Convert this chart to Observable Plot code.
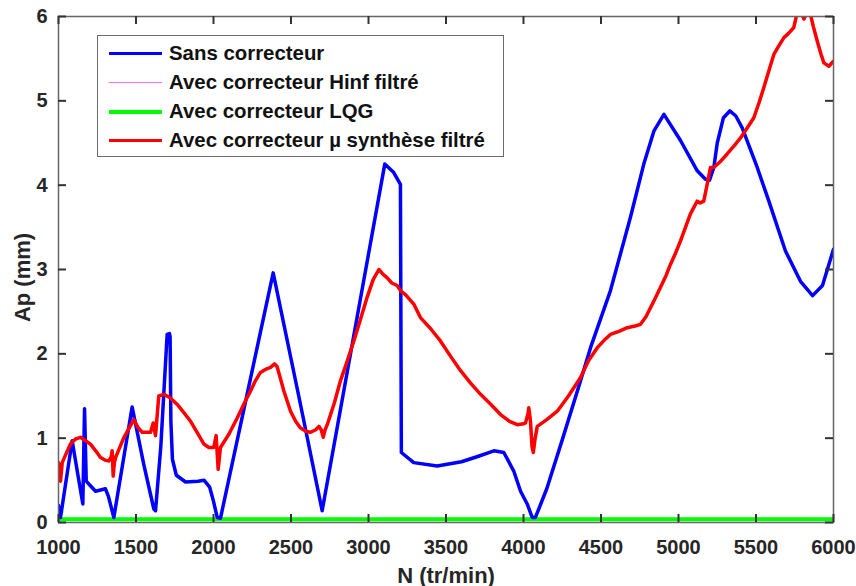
<!DOCTYPE html>
<html><head><meta charset="utf-8">
<script src="https://cdn.jsdelivr.net/npm/d3@7"></script>
<script src="https://cdn.jsdelivr.net/npm/@observablehq/plot@0.6"></script>
<style>
body{margin:0;background:#fff;}
#wrap{position:relative;width:856px;height:586px;font-family:"Liberation Sans",Arial,sans-serif;font-weight:bold;color:#111;}
#legend{position:absolute;left:97px;top:35px;width:405px;height:120px;border:1.5px solid #6b6b6b;background:#fff;box-sizing:content-box;}
.row{position:absolute;left:0;height:30px;width:100%;}
.sw{position:absolute;left:11px;width:53px;top:50%;}
.lab{position:absolute;left:71px;top:50%;transform:translateY(-52%);font-size:20.4px;white-space:nowrap;line-height:1;}
</style>
</head><body>
<div id="wrap"><div id="chart"></div><div id="legend"></div></div>
<script>
// Axis ticks
const xTicks = [1000,1500,2000,2500,3000,3500,4000,4500,5000,5500,6000];
const yTicks = [0,1,2,3,4,5,6];

// Series names and colours
const seriesNames = ["Sans correcteur","Avec correcteur Hinf filtré","Avec correcteur LQG","Avec correcteur µ synthèse filtré"];
const seriesColors = ["#0000ff","#ff66ff","#00ff00","#ff0000"];
const seriesWidths = [3.5,1.5,4,3.5];

// Sans correcteur (blue)
const N_sans = [1000,1013,1088,1157,1168,1179,1194,1239,1303,1322,1357,1475,1550,1615,1626,1660,1701,1716,1720,1725,1735,1760,1820,1900,1940,1975,2000,2024,2045,2385,2550,2701,3105,3163,3206,3212,3292,3443,3600,3700,3809,3873,3937,3981,4024,4056,4077,4150,4250,4368,4432,4561,4690,4776,4841,4906,5013,5121,5174,5200,5228,5250,5290,5331,5370,5411,5508,5583,5690,5787,5865,5929,6000];
const Ap_sans = [0.20,0.06,0.97,0.22,1.35,0.49,0.46,0.37,0.40,0.31,0.06,1.37,0.69,0.16,0.14,0.9,2.23,2.24,2.2,1.2,0.75,0.56,0.48,0.49,0.50,0.42,0.25,0.06,0.05,2.96,1.50,0.14,4.25,4.15,4.01,0.83,0.71,0.67,0.72,0.78,0.85,0.83,0.61,0.37,0.22,0.06,0.06,0.40,0.98,1.68,2.07,2.75,3.62,4.25,4.64,4.84,4.53,4.17,4.07,4.06,4.21,4.5,4.8,4.88,4.82,4.68,4.21,3.81,3.22,2.86,2.69,2.81,3.24];

// Avec correcteur Hinf filtré (pink, hidden under LQG)
const N_hinf = [1000,6000];
const Ap_hinf = [0.03,0.03];

// Avec correcteur LQG (green)
const N_lqg = [1000,6000];
const Ap_lqg = [0.04,0.04];

// Avec correcteur µ synthèse filtré (red)
const N_mu = [1000,1013,1024,1050,1077,1110,1142,1175,1206,1240,1271,1300,1325,1340,1346,1353,1360,1368,1420,1486,1515,1540,1594,1611,1626,1647,1680,1720,1766,1810,1852,1900,1938,1970,2002,2017,2030,2045,2100,2153,2200,2239,2270,2303,2340,2368,2394,2410,2430,2454,2497,2530,2561,2600,2626,2660,2680,2695,2708,2720,2734,2780,2819,2860,2905,2950,2991,3030,3067,3090,3121,3150,3185,3206,3240,3292,3335,3400,3465,3530,3594,3660,3723,3790,3852,3910,3959,4000,4013,4030,4034,4045,4055,4063,4075,4089,4150,4218,4290,4368,4420,4475,4520,4561,4620,4669,4720,4755,4790,4820,4850,4884,4920,4948,4980,5013,5045,5077,5100,5120,5140,5163,5185,5206,5228,5270,5314,5360,5400,5440,5486,5520,5551,5585,5615,5650,5680,5710,5744,5766,5790,5809,5830,5852,5870,5895,5920,5938,5970,6000];
const Ap_mu = [0.71,0.49,0.71,0.82,0.93,0.99,1.01,0.97,0.93,0.85,0.77,0.74,0.73,0.78,0.85,0.55,0.70,0.77,1.00,1.22,1.12,1.07,1.07,1.18,1.03,1.50,1.52,1.48,1.40,1.30,1.20,1.05,0.93,0.89,0.89,1.03,0.63,0.89,1.05,1.24,1.42,1.56,1.68,1.78,1.82,1.84,1.88,1.85,1.72,1.56,1.32,1.20,1.12,1.08,1.07,1.10,1.14,1.10,1.01,1.10,1.16,1.42,1.68,1.90,2.15,2.42,2.67,2.88,3.00,2.95,2.90,2.84,2.81,2.75,2.70,2.59,2.43,2.30,2.15,1.97,1.80,1.65,1.52,1.40,1.28,1.20,1.16,1.17,1.18,1.30,1.36,1.20,0.90,0.83,1.00,1.14,1.22,1.32,1.50,1.72,1.92,2.07,2.16,2.23,2.27,2.31,2.33,2.35,2.44,2.55,2.66,2.79,2.93,3.06,3.19,3.34,3.50,3.66,3.74,3.81,3.79,3.81,4.01,4.21,4.21,4.28,4.37,4.47,4.56,4.67,4.80,4.98,5.16,5.37,5.55,5.66,5.75,5.80,5.87,6.05,6.05,5.97,6.05,6.02,5.88,5.71,5.55,5.45,5.41,5.47];

const toRows = (N, A) => N.map((n, i) => ({N: n, Ap: A[i]}));
const series = [toRows(N_sans, Ap_sans), toRows(N_hinf, Ap_hinf), toRows(N_lqg, Ap_lqg), toRows(N_mu, Ap_mu)];
const drawOrder = [1, 2, 0, 3];

const axisColor = "#666666";
const tickColor = "#333333";
const fmt = d3.format("d");
const W = 856, H = 586, mL = 58, mR = 23, mT = 16, mB = 64;
const plotW = W - mL - mR, plotH = H - mT - mB;
const tickLen = 8; // inward tick length, px
const xDom = [1000, 6000], yDom = [0, 6];
const tickDx = tickLen * (xDom[1] - xDom[0]) / plotW;
const tickDy = tickLen * (yDom[1] - yDom[0]) / plotH;

const chart = Plot.plot({
  width: W, height: H,
  marginLeft: mL, marginRight: mR, marginTop: mT, marginBottom: mB,
  x: {domain: xDom},
  y: {domain: yDom},
  style: {fontFamily: "'Liberation Sans', Arial, sans-serif", fontWeight: "bold", fontSize: "20px", color: "#262626", background: "white"},
  marks: [
    ...drawOrder.map(k => Plot.line(series[k], {x: "N", y: "Ap", stroke: seriesColors[k], strokeWidth: seriesWidths[k], clip: true, strokeLinejoin: "round"})),
    Plot.frame({stroke: axisColor, strokeWidth: 1.5}),
    Plot.axisX({anchor: "bottom", ticks: xTicks, tickSize: 0, tickPadding: 17, label: null, tickFormat: fmt}),
    Plot.axisY({anchor: "left", ticks: yTicks, tickSize: 0, tickPadding: 11, label: null, tickFormat: fmt}),
    Plot.text(["N (tr/min)"], {text: d => d, frameAnchor: "bottom", dy: 60, lineAnchor: "bottom", fontSize: 22, fontWeight: "bold"}),
    Plot.text(["Ap (mm)"], {text: d => d, frameAnchor: "left", textAnchor: "middle", dx: -36, dy: 8, rotate: -90, fontSize: 22, fontWeight: "bold"}),
    // inward ticks on all four sides
    Plot.ruleX(xTicks, {x: d => d, y1: yDom[0], y2: yDom[0] + tickDy, stroke: tickColor, strokeWidth: 2}),
    Plot.ruleX(xTicks, {x: d => d, y1: yDom[1] - tickDy, y2: yDom[1], stroke: tickColor, strokeWidth: 2}),
    Plot.ruleY(yTicks, {y: d => d, x1: xDom[0], x2: xDom[0] + tickDx, stroke: tickColor, strokeWidth: 2}),
    Plot.ruleY(yTicks, {y: d => d, x1: xDom[1] - tickDx, x2: xDom[1], stroke: tickColor, strokeWidth: 2})
  ]
});
document.getElementById("chart").append(chart);

// Legend
const legend = document.getElementById("legend");
const rowCenters = [17.7, 46.7, 76, 105];
seriesNames.forEach((name, i) => {
  const row = document.createElement("div");
  row.className = "row";
  row.style.top = (rowCenters[i] - 15) + "px";
  const sw = document.createElement("div");
  sw.className = "sw";
  sw.style.borderTop = seriesWidths[i] + "px solid " + seriesColors[i];
  sw.style.marginTop = (-seriesWidths[i] / 2) + "px";
  const lab = document.createElement("div");
  lab.className = "lab";
  lab.textContent = name;
  row.append(sw, lab);
  legend.append(row);
});
</script>
</body></html>
